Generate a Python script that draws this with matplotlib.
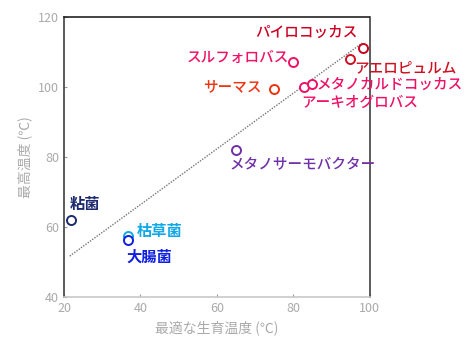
import matplotlib
matplotlib.use("Agg")
import matplotlib.pyplot as plt

plt.rcParams['font.family'] = ['Noto Sans CJK JP', 'DejaVu Sans']

# organisms: optimum growth temp (x) vs max growth temp (y)
names = ["粘菌", "枯草菌", "大腸菌", "メタノサーモバクター", "サーマス", "スルフォロバス",
         "アーキオグロバス", "メタノカルドコッカス", "アエロピュルム", "パイロコッカス"]
opt_temp = [21.8, 36.7, 36.7, 64.9, 74.8, 79.8, 82.7, 84.8, 94.9, 98.1]
max_temp = [62.0, 57.4, 56.3, 82.0, 99.4, 107.1, 100.0, 100.9, 108.0, 111.1]
colors = ["#1c2a6e", "#10a8e8", "#1020e0", "#7030a8", "#ee3311", "#ee1166",
          "#ee1166", "#ee1166", "#cc1122", "#cc0022"]

# trend line ends
fit_x = [21.5, 98.0]
fit_y = [51.7, 112.6]

# label anchor (x, y, ha)
label_pos = [(21.6, 66.6, "left"), (39.1, 58.9, "left"), (36.4, 51.4, "left"),
             (63.3, 77.7, "left"), (71.7, 100.0, "right"), (78.9, 108.3, "right"),
             (82.1, 95.4, "left"), (86.0, 100.6, "left"), (96.0, 105.4, "left"),
             (70.0, 115.4, "left")]

fig = plt.figure(figsize=(4.72, 3.57), dpi=100)
ax = fig.add_axes([0.1356, 0.168, 0.648, 0.784])

ax.plot(fit_x, fit_y, color="#777777", lw=1.0, ls=(0, (1, 1)), zorder=1)
for x, y, c in zip(opt_temp, max_temp, colors):
    ax.plot(x, y, "o", mfc="white", mec=c, mew=1.4, ms=6.5, zorder=3)

for name, (lx, ly, ha), c in zip(names, label_pos, colors):
    kanji = name in ("粘菌", "枯草菌", "大腸菌")
    ax.text(lx, ly, name, color=c, ha=ha, va="center",
            fontsize=11 if kanji else 10.5, fontweight="bold" if kanji else "medium",
            zorder=4, clip_on=False)

ax.set_xlim(20, 100)
ax.set_ylim(40, 120)
ax.set_xticks([20, 40, 60, 80, 100])
ax.set_yticks([40, 60, 80, 100, 120])
ax.tick_params(direction="in", length=2.5, colors="#999999", labelcolor="#aaaaaa",
               labelsize=9)
ax.set_xlabel("最適な生育温度 (℃)", color="#aaaaaa", fontsize=10, labelpad=4)
ax.set_ylabel("最高温度 (℃)", color="#aaaaaa", fontsize=10, labelpad=4)

ax.spines["left"].set_color("#404040")
ax.spines["right"].set_color("#404040")
ax.spines["top"].set_color("#222222")
ax.spines["top"].set_linestyle((0, (1, 1)))
ax.spines["bottom"].set_color("#c8c8c8")
for s in ax.spines.values():
    s.set_linewidth(1.2)

fig.savefig("out.png", dpi=100)
